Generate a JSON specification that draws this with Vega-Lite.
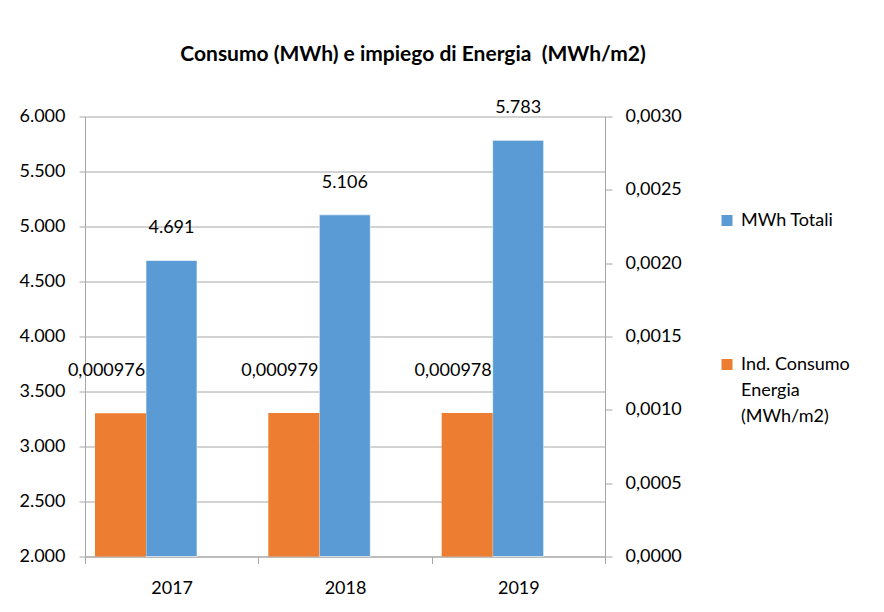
{
  "$schema": "https://vega.github.io/schema/vega-lite/v6.json",
  "width": 520,
  "height": 440,
  "autosize": {"type": "none"},
  "padding": {"left": 85, "top": 116.5, "right": 279, "bottom": 55.5},
  "title": {"text": "Consumo (MWh) e impiego di Energia\u00a0 (MWh/m2)", "font": "Lato", "fontSize": 21, "fontWeight": "bold", "color": "#000000", "anchor": "middle", "dx": 68, "offset": 34},
  "data": {
    "values": [
      {"year": "2017", "series": "MWh Totali", "value": 4691},
      {"year": "2018", "series": "MWh Totali", "value": 5106},
      {"year": "2019", "series": "MWh Totali", "value": 5783},
      {"year": "2017", "series": "Ind. Consumo Energia (MWh/m2)", "value": 0.000976},
      {"year": "2018", "series": "Ind. Consumo Energia (MWh/m2)", "value": 0.000979},
      {"year": "2019", "series": "Ind. Consumo Energia (MWh/m2)", "value": 0.000978}
    ]
  },
  "encoding": {
    "x": {
      "field": "year", "type": "nominal",
      "scale": {"paddingInner": 0, "paddingOuter": 0},
      "axis": {"orient": "bottom", "title": null, "labelAngle": 0, "tickBand": "extent", "tickSize": 7, "labelPadding": 16, "grid": false}
    },
    "xOffset": {
      "field": "series", "type": "nominal",
      "scale": {"domain": ["Ind. Consumo Energia (MWh/m2)", "MWh Totali"], "paddingInner": 0, "paddingOuter": 0.6993, "align": 0.14}
    }
  },
  "layer": [
    {
      "transform": [{"filter": "datum.series === 'MWh Totali'"}],
      "encoding": {
        "y": {
          "field": "value", "type": "quantitative",
          "scale": {"domain": [2000, 6000], "zero": false, "nice": false},
          "axis": {"orient": "left", "title": null, "values": [2000, 2500, 3000, 3500, 4000, 4500, 5000, 5500, 6000], "format": ",.0f", "grid": true, "tickSize": 6, "labelPadding": 14}
        }
      },
      "layer": [
        {
          "mark": {"type": "bar", "stroke": "#ffffff", "strokeWidth": 0.6},
          "encoding": {
            "y2": {"datum": 2000},
            "color": {
              "field": "series", "type": "nominal",
              "scale": {"domain": ["MWh Totali", "Ind. Consumo Energia (MWh/m2)"], "range": ["#5B9BD5", "#ED7D31"]},
              "legend": {"orient": "none", "legendX": 633, "legendY": 95, "title": null, "symbolType": "square", "symbolSize": 121, "symbolStrokeWidth": 0, "labelOffset": 5, "labelLimit": 0, "rowPadding": 126, "padding": 0,
                "labelExpr": "datum.label == 'MWh Totali' ? datum.label : ['Ind. Consumo', 'Energia', '(MWh/m2)']"}
            }
          }
        },
        {
          "mark": {"type": "text", "font": "Lato", "fontSize": 18, "color": "#000000", "baseline": "middle", "dy": -32},
          "encoding": {"text": {"field": "value", "type": "quantitative", "format": ",.0f"}}
        }
      ]
    },
    {
      "transform": [{"filter": "datum.series !== 'MWh Totali'"}],
      "encoding": {
        "y": {
          "field": "value", "type": "quantitative",
          "scale": {"domain": [0, 0.003], "nice": false},
          "axis": {"orient": "right", "title": null, "values": [0, 0.0005, 0.001, 0.0015, 0.002, 0.0025, 0.003], "format": ".4f", "grid": false, "tickSize": 7, "labelPadding": 13}
        }
      },
      "layer": [
        {
          "mark": {"type": "bar"},
          "encoding": {
            "color": {
              "field": "series", "type": "nominal",
              "scale": {"domain": ["MWh Totali", "Ind. Consumo Energia (MWh/m2)"], "range": ["#5B9BD5", "#ED7D31"]},
              "legend": {"orient": "none", "legendX": 633, "legendY": 95, "title": null, "symbolType": "square", "symbolSize": 121, "symbolStrokeWidth": 0, "labelOffset": 5, "labelLimit": 0, "rowPadding": 126, "padding": 0,
                "labelExpr": "datum.label == 'MWh Totali' ? datum.label : ['Ind. Consumo', 'Energia', '(MWh/m2)']"}
            }
          }
        },
        {
          "mark": {"type": "text", "font": "Lato", "fontSize": 18, "color": "#000000", "baseline": "middle", "dx": -14, "dy": -42},
          "encoding": {"text": {"field": "value", "type": "quantitative", "format": ".6f"}}
        }
      ]
    }
  ],
  "resolve": {"scale": {"y": "independent"}},
  "config": {
    "locale": {"number": {"decimal": ",", "thousands": ".", "grouping": [3], "currency": ["", " €"]}},
    "view": {"stroke": null},
    "font": "Lato",
    "axis": {"labelFont": "Lato", "labelFontSize": 18, "labelColor": "#000000", "domainColor": "#a6a6a6", "tickColor": "#a6a6a6", "gridColor": "#a6a6a6", "domainWidth": 1, "tickWidth": 1, "gridWidth": 1},
    "legend": {"labelFont": "Lato", "labelFontSize": 18, "labelColor": "#000000"},
    "style": {"guide-label": {"lineHeight": 26}}
  }
}
